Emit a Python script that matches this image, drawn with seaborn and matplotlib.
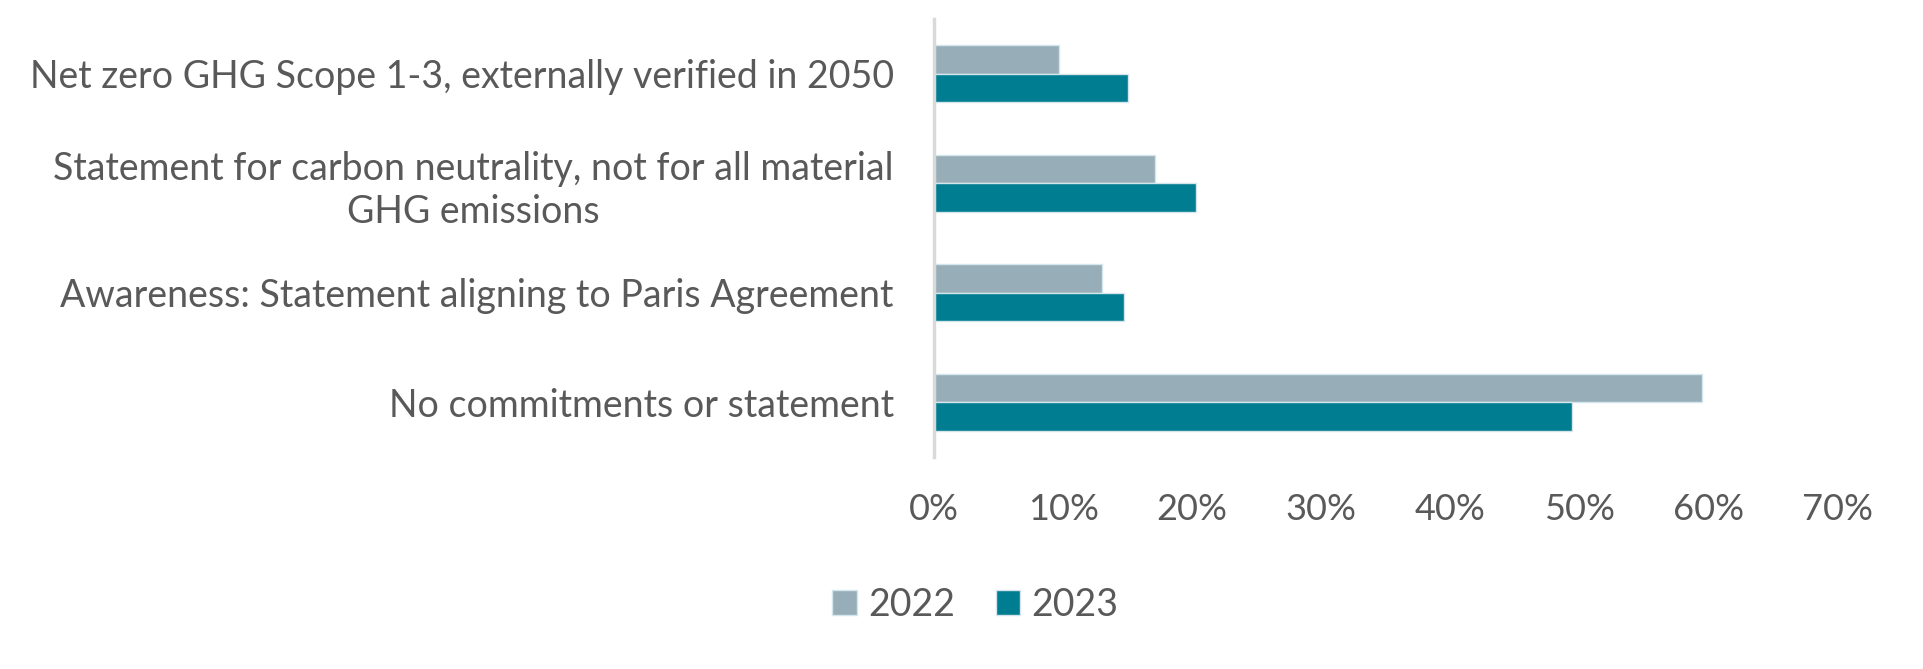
import seaborn as sns
import pandas as pd
import matplotlib.pyplot as plt
from matplotlib.ticker import PercentFormatter

# data
categories = ["Net zero GHG Scope 1-3, externally verified in 2050",
              "Statement for carbon neutrality, not for all material\nGHG emissions",
              "Awareness: Statement aligning to Paris Agreement",
              "No commitments or statement"]
years = ["2022", "2023"]
share_2022 = [9.7, 17.1, 13.0, 59.5]
share_2023 = [15.0, 20.3, 14.7, 49.4]

df = pd.DataFrame({
    "category": categories * 2,
    "year": [years[0]] * 4 + [years[1]] * 4,
    "share": share_2022 + share_2023,
})

sns.set_style("white")
plt.rcParams["font.family"] = ["Lato", "DejaVu Sans"]
text_col = "#595959"

fig = plt.figure(figsize=(19.24, 6.69), dpi=100)
ax = fig.add_axes([0.4855, 0.317, 0.955 - 0.4855, 0.972 - 0.317])

sns.barplot(data=df, y="category", x="share", hue="year", order=categories,
            hue_order=years, palette=["#97adb8", "#007d91"], saturation=1,
            width=0.52, orient="h", ax=ax, edgecolor="#d4e6ec", linewidth=1)

ax.set_xlim(0, 70)
ax.set_xticks(range(0, 71, 10))
ax.xaxis.set_major_formatter(PercentFormatter(decimals=0))
ax.set_ylim(3.5, -0.5)
ax.set_xlabel("")
ax.set_ylabel("")

for s in ["top", "right", "bottom"]:
    ax.spines[s].set_visible(False)
ax.spines["left"].set_color("#d9d9d9")
ax.spines["left"].set_linewidth(2.5)

ax.tick_params(axis="y", length=0, pad=29, labelsize=27, labelcolor=text_col)
ax.tick_params(axis="x", length=0, pad=26, labelsize=26, labelcolor=text_col)
for lab in ax.get_yticklabels():
    lab.set_multialignment("center")
    lab.set_linespacing(1.25)

ax.legend_.remove()
handles, labels = ax.get_legend_handles_labels()
fig.legend(handles, labels, loc="center", bbox_to_anchor=(0.507, 0.096),
           ncol=2, frameon=False, fontsize=27, labelcolor=text_col,
           handlelength=0.65, handleheight=0.65, handletextpad=0.3,
           columnspacing=1.1)

fig.savefig("out.png", dpi=100)
